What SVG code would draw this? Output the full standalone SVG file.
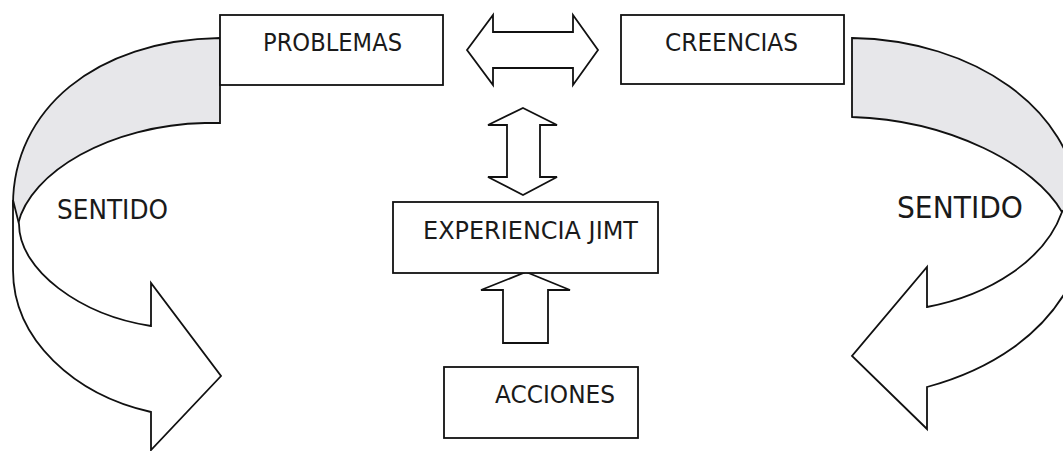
<svg xmlns="http://www.w3.org/2000/svg" width="1063" height="451" viewBox="0 0 1063 451">
<style>
.box{fill:#fff;stroke:#111;stroke-width:1.8}
.shp{fill:#fff;stroke:#111;stroke-width:1.8;stroke-linejoin:miter}
.back{fill:#e7e7ea;stroke:#111;stroke-width:1.8}
.t{font-family:"DejaVu Sans","Liberation Sans",sans-serif;fill:#1a1a1a;font-size:25px}
</style>
<rect width="1063" height="451" fill="#fff"/>
<g id="connectors">
<g id="curved-left">
<path class="back" d="M220,38 C95,40 13,110 13,205 L18,224 C30,172 110,125 205,123 L220,123 Z"/>
<path class="shp" d="M13,200 L13,270 C13,340 75,395 151,412 L151,450 L221,376 L151,283 L151,326 C80,315 19,270 19,224 Z"/>
</g>
<g id="curved-right">
<path class="back" d="M852,38 C975,40 1072,110 1078,200 L1062,212 C1035,165 950,120 852,117 Z"/>
<path class="shp" d="M1078,195 L1072,280 C1045,335 990,370 927,387 L927,429 L852,356 L927,267 L927,307 C990,295 1045,260 1062,212 Z"/>
</g>
<path id="arrow-horizontal" class="shp" d="M467,50 L493,15 L493,32 L573,32 L573,15 L598,50 L573,85 L573,68 L493,68 L493,85 Z"/>
<path id="arrow-vertical" class="shp" d="M523,108 L557,125 L540,125 L540,177 L557,177 L523,195 L488,177 L507,177 L507,125 L488,125 Z"/>
<path id="arrow-up" class="shp" d="M526,272 L570,290 L548,290 L548,343 L503,343 L503,290 L481,290 Z"/>
</g>
<g id="problemas">
<rect class="box" x="220" y="15" width="223" height="70"/>
<text class="t" x="263" y="51" textLength="139" lengthAdjust="spacingAndGlyphs">PROBLEMAS</text>
</g>
<g id="creencias">
<rect class="box" x="621" y="15" width="223" height="69"/>
<text class="t" x="665" y="51" textLength="133" lengthAdjust="spacingAndGlyphs">CREENCIAS</text>
</g>
<g id="experiencia">
<rect class="box" x="393" y="202" width="265" height="71"/>
<text class="t" x="423" y="239" textLength="215" lengthAdjust="spacingAndGlyphs">EXPERIENCIA JIMT</text>
</g>
<g id="acciones">
<rect class="box" x="444" y="367" width="194" height="71"/>
<text class="t" x="495" y="403" textLength="120" lengthAdjust="spacingAndGlyphs">ACCIONES</text>
</g>
<g id="sentido-left">
<text class="t" x="57" y="219" style="font-size:26px" textLength="111" lengthAdjust="spacingAndGlyphs">SENTIDO</text>
</g>
<g id="sentido-right">
<text class="t" x="897" y="218" style="font-size:31px" textLength="126" lengthAdjust="spacingAndGlyphs">SENTIDO</text>
</g>
</svg>
